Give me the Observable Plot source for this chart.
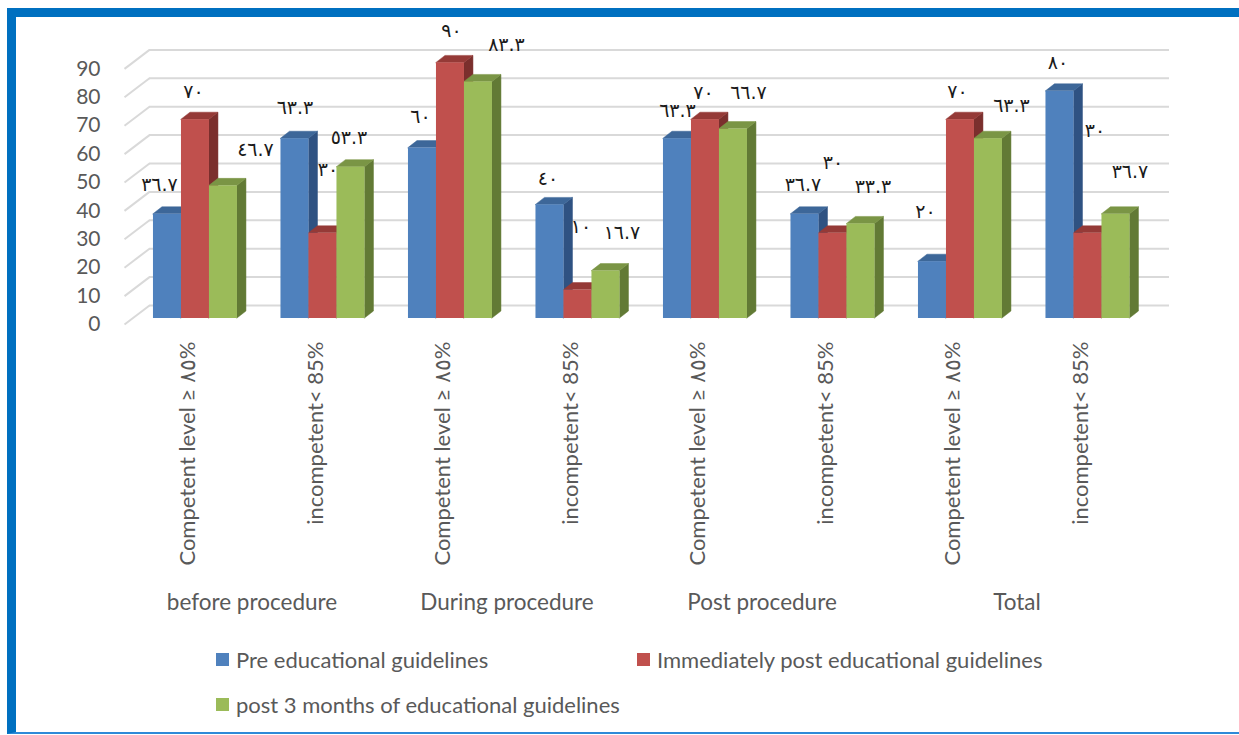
<!DOCTYPE html>
<html>
<head>
<meta charset="utf-8">
<script src="https://cdn.jsdelivr.net/npm/d3@7"></script>
<script src="https://cdn.jsdelivr.net/npm/@observablehq/plot@0.6"></script>
<style>
  html, body { margin: 0; padding: 0; background: #fff; width: 1239px; height: 735px; overflow: hidden; position: relative; }
  #frame { position: absolute; left: 7px; top: 8px; width: 1300px; height: 715px;
           border-top: 9px solid #0070C0; border-left: 9px solid #0070C0; border-bottom: 2px solid #2F8AD8; }
  #chart { position: absolute; left: 0; top: 0; }
  .lg { position: absolute; font-family: Lato, "Open Sans", sans-serif; font-size: 22px; color: #595959; white-space: nowrap; line-height: 22px; }
  .lg span.sw { position: absolute; left: -20px; top: 4px; width: 13px; height: 13px; }
</style>
</head>
<body>
<div id="frame"></div>
<div id="chart"></div>
<div id="legend"></div>
<script>
// ---- data ----
const groups = ["before procedure", "During procedure", "Post procedure", "Total"];
const levels = ["Competent level ≥ ٨٥%", "incompetent< 85%"];
const seriesNames = ["Pre educational guidelines", "Immediately post educational guidelines", "post 3 months of educational guidelines"];
const pre         = [36.7, 63.3, 60, 40, 63.3, 36.7, 20, 80];
const immediately = [70, 30, 90, 10, 70, 30, 70, 30];
const post3       = [46.7, 53.3, 83.3, 16.7, 66.7, 33.3, 63.3, 36.7];
const yTicks = [0, 10, 20, 30, 40, 50, 60, 70, 80, 90];

// ---- layout / style (not data) ----
const frontColors = ["#4F81BD", "#C0504D", "#9BBB59"];
const topColors   = ["#3D6799", "#953A37", "#7A9545"];
const sideColors  = ["#2F5282", "#7B2F2D", "#627A35"];
// label nudges in pixels [dx, dy] relative to bar front top centre
const labelNudge = [
  [-8,-29], [-2,-28], [32,-36],
  [0,-31],  [5,-63],  [-2,-29],
  [-2,-31], [1,-32],  [28,-37],
  [-2,-26], [3,-63],  [16,-38],
  [0,-28],  [-2,-27], [15,-36],
  [-2,-29], [0,-70],  [12,-37],
  [-7,-50], [-3,-28], [23,-33],
  [-2,-28], [7,-102], [14,-42]
];

const W = 1239, H = 640;
const XL = 124, XR = 1144, Y0 = 324, YTOP = 68.4;
const K = (XR - XL) / 8;          // px per category
const L = (Y0 - YTOP) / 90;       // px per unit value
const INSET = 0.188, BW = 0.2196; // bar inset & width in category units
const SHIFT = {dx: 5, dy: -6};    // bar front plane offset in px
const DX = 9 / K, DY = 7 / L;     // bar depth in data units
const WALL = {dx: 25, dy: -19};   // back wall offset px

const seriesValues = [pre, immediately, post3];
const cats = [];
groups.forEach((g, gi) => levels.forEach((l, li) => cats.push({i: gi * 2 + li, label: l})));

const toArabic = v => String(v).replace(/[0-9]/g, d => "٠١٢٣٤٥٦٧٨٩"[+d]);

const rows = [];
cats.forEach(c => seriesValues.forEach((vals, s) => {
  const x0 = c.i + INSET + s * BW;
  rows.push({id: c.i * 3 + s, i: c.i, s, v: vals[c.i], x0, x1: x0 + BW});
}));

const sideMarks = [], topMarks = [], frontMarks = [];
for (let s = 0; s < 3; s++) {
  const r = rows.filter(d => d.s === s);
  const side = r.flatMap(d => [
    {id: d.id, x: d.x1, y1: 0, y2: d.v},
    {id: d.id, x: d.x1 + DX, y1: DY, y2: d.v + DY}
  ]);
  const top = r.flatMap(d => [
    {id: d.id, y: d.v, x1: d.x0, x2: d.x1},
    {id: d.id, y: d.v + DY, x1: d.x0 + DX, x2: d.x1 + DX}
  ]);
  sideMarks.push(Plot.areaY(side, {x: "x", y1: "y1", y2: "y2", z: "id", fill: sideColors[s], stroke: sideColors[s], strokeWidth: 0.5, ...SHIFT}));
  topMarks.push(Plot.areaX(top, {y: "y", x1: "x1", x2: "x2", z: "id", fill: topColors[s], stroke: topColors[s], strokeWidth: 0.5, ...SHIFT}));
  frontMarks.push(Plot.rectY(r, {x1: "x0", x2: "x1", y1: 0, y2: "v", fill: frontColors[s], ...SHIFT}));
}

const labels = rows.map(d => ({
  text: toArabic(d.v),
  x: (d.x0 + d.x1) / 2 + labelNudge[d.id][0] / K,
  y: d.v - labelNudge[d.id][1] / L
}));

const chart = Plot.plot({
  width: W, height: H,
  marginLeft: XL, marginRight: W - XR, marginTop: YTOP, marginBottom: H - Y0,
  x: {type: "linear", domain: [0, 8], axis: null},
  y: {type: "linear", domain: [0, 90], axis: null},
  style: {fontFamily: "Lato, 'Open Sans', sans-serif", color: "#595959", background: "transparent", overflow: "visible"},
  marks: [
    Plot.ruleY(yTicks, {x1: 0, x2: 8, stroke: "#D9D9D9", strokeWidth: 2, ...WALL}),
    Plot.link(yTicks, {x1: 0, y1: d => d, x2: WALL.dx / K, y2: d => d - WALL.dy / L, stroke: "#D9D9D9", strokeWidth: 2}),
    Plot.axisY(yTicks, {tickSize: 0, tickPadding: 24, fontSize: 21, fill: "#595959", label: null}),
    Plot.text(labels, {x: "x", y: "y", text: "text", fontFamily: "'DejaVu Sans', sans-serif", fontSize: 19, fill: "#1a1a1a", ...SHIFT}),
    ...sideMarks, ...topMarks, ...frontMarks,
    Plot.text(cats, {x: d => d.i + 0.5, y: 0, text: "label", rotate: -90, textAnchor: "end", dy: 17, fontSize: 22, fill: "#595959"}),
    Plot.text(groups, {x: (d, gi) => gi * 2 + 1, y: 0, text: d => d, dy: 278, fontSize: 22.5, fill: "#595959"})
  ]
});
document.getElementById("chart").appendChild(chart);

// legend (HTML, below the plot)
const legendPos = [[236, 649], [657, 649], [236, 694]];
const lg = document.getElementById("legend");
seriesNames.forEach((n, s) => {
  const d = document.createElement("div");
  d.className = "lg";
  d.style.left = legendPos[s][0] + "px";
  d.style.top = legendPos[s][1] + "px";
  const sw = document.createElement("span");
  sw.className = "sw";
  sw.style.background = frontColors[s];
  d.appendChild(sw);
  d.appendChild(document.createTextNode(n));
  lg.appendChild(d);
});
</script>
</body>
</html>
